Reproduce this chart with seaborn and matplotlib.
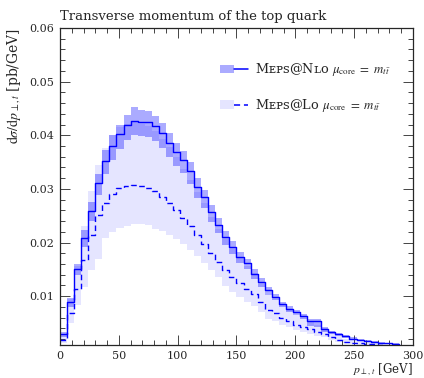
import numpy as np
import pandas as pd
import seaborn as sns
import matplotlib
matplotlib.use("Agg")
import matplotlib.pyplot as plt
from matplotlib.patches import Patch
from matplotlib.lines import Line2D
from matplotlib.legend_handler import HandlerTuple

# ---------------- data ----------------
bin_edges = np.linspace(0, 300, 51)

nlo_central = [0.0029, 0.0089, 0.0150, 0.0209, 0.0259, 0.0311, 0.0352, 0.0380, 0.0402, 0.0419,
               0.0427, 0.0425, 0.0425, 0.0418, 0.0404, 0.0386, 0.0369, 0.0354, 0.0333, 0.0304,
               0.0284, 0.0257, 0.0233, 0.0210, 0.0192, 0.0173, 0.0161, 0.0142, 0.0127, 0.0111,
               0.0099, 0.0085, 0.0077, 0.0070, 0.0063, 0.0054, 0.0053, 0.0039, 0.0033, 0.0030,
               0.0025, 0.0021, 0.0018, 0.0017, 0.0015, 0.0013, 0.0012, 0.0011, 0.0008, 0.0007]
nlo_upper = [0.0034, 0.0097, 0.0160, 0.0224, 0.0275, 0.0328, 0.0372, 0.0400, 0.0420, 0.0438,
             0.0452, 0.0448, 0.0445, 0.0436, 0.0422, 0.0404, 0.0386, 0.0371, 0.0350, 0.0320,
             0.0298, 0.0270, 0.0246, 0.0222, 0.0203, 0.0183, 0.0170, 0.0150, 0.0134, 0.0118,
             0.0105, 0.0090, 0.0082, 0.0074, 0.0067, 0.0058, 0.0057, 0.0042, 0.0036, 0.0032,
             0.0027, 0.0023, 0.0020, 0.0018, 0.0016, 0.0014, 0.0013, 0.0012, 0.0009, 0.0008]
nlo_lower = [0.0024, 0.0080, 0.0139, 0.0192, 0.0240, 0.0288, 0.0328, 0.0354, 0.0375, 0.0392,
             0.0400, 0.0398, 0.0396, 0.0390, 0.0376, 0.0359, 0.0343, 0.0329, 0.0310, 0.0283,
             0.0264, 0.0239, 0.0217, 0.0195, 0.0179, 0.0161, 0.0150, 0.0132, 0.0118, 0.0103,
             0.0092, 0.0079, 0.0071, 0.0064, 0.0057, 0.0044, 0.0042, 0.0034, 0.0029, 0.0026,
             0.0022, 0.0018, 0.0016, 0.0015, 0.0013, 0.0011, 0.0010, 0.0009, 0.0007, 0.0006]

lo_central = [0.0019, 0.0068, 0.0113, 0.0167, 0.0215, 0.0251, 0.0273, 0.0290, 0.0301, 0.0305,
              0.0307, 0.0305, 0.0302, 0.0296, 0.0285, 0.0274, 0.0260, 0.0245, 0.0230, 0.0214,
              0.0198, 0.0180, 0.0164, 0.0149, 0.0136, 0.0124, 0.0114, 0.0104, 0.0089, 0.0074,
              0.0069, 0.0060, 0.0054, 0.0047, 0.0043, 0.0038, 0.0033, 0.0030, 0.0024, 0.0018,
              0.0015, 0.0013, 0.0012, 0.0011, 0.0010, 0.0009, 0.0008, 0.0007, 0.0006, 0.0005]
lo_upper = [0.0027, 0.0094, 0.0156, 0.0230, 0.0297, 0.0345, 0.0376, 0.0400, 0.0415, 0.0421,
            0.0424, 0.0421, 0.0417, 0.0408, 0.0393, 0.0378, 0.0359, 0.0338, 0.0317, 0.0295,
            0.0273, 0.0248, 0.0226, 0.0206, 0.0188, 0.0171, 0.0157, 0.0143, 0.0123, 0.0102,
            0.0095, 0.0083, 0.0075, 0.0065, 0.0059, 0.0052, 0.0046, 0.0041, 0.0033, 0.0025,
            0.0021, 0.0018, 0.0017, 0.0015, 0.0014, 0.0012, 0.0011, 0.0010, 0.0008, 0.0007]
lo_lower = [0.0012, 0.0050, 0.0083, 0.0117, 0.0149, 0.0170, 0.0208, 0.0220, 0.0227, 0.0231,
            0.0234, 0.0235, 0.0232, 0.0226, 0.0222, 0.0214, 0.0206, 0.0198, 0.0187, 0.0175,
            0.0161, 0.0149, 0.0136, 0.0119, 0.0108, 0.0098, 0.0090, 0.0082, 0.0070, 0.0058,
            0.0054, 0.0047, 0.0042, 0.0037, 0.0033, 0.0029, 0.0026, 0.0023, 0.0019, 0.0014,
            0.0012, 0.0010, 0.0009, 0.0008, 0.0008, 0.0007, 0.0006, 0.0005, 0.0005, 0.0004]

title = "Transverse momentum of the top quark"
label_nlo = "M\u1d07\u1d18\ua731@N\u029f\u1d0f $\\mu_{\\mathrm{core}}\\ =\\ m_{t\\bar{t}}$"
label_lo = "M\u1d07\u1d18\ua731@L\u1d0f $\\mu_{\\mathrm{core}}\\ =\\ m_{t\\bar{t}}$"

# ---------------- style ----------------
sns.set_style("ticks")
plt.rcParams["font.family"] = ["DejaVu Serif", "DejaVu Sans"]
plt.rcParams["mathtext.fontset"] = "stix"

fig = plt.figure(figsize=(4.24, 3.78), dpi=100)
ax = fig.add_axes([60 / 424, 1 - 345 / 378, 353 / 424, (345 - 28) / 378])


def ext(v):
    return np.append(np.asarray(v, dtype=float), v[-1])


blue = "#0000ff"
ax.fill_between(bin_edges, ext(lo_lower), ext(lo_upper), step="post",
                color=blue, alpha=0.10, lw=0)
ax.fill_between(bin_edges, ext(nlo_lower), ext(nlo_upper), step="post",
                color=blue, alpha=0.33, lw=0)

df_nlo = pd.DataFrame({"x": bin_edges, "y": ext(nlo_central)})
df_lo = pd.DataFrame({"x": bin_edges, "y": ext(lo_central)})
sns.lineplot(data=df_nlo, x="x", y="y", drawstyle="steps-post", color=blue,
             lw=1.0, estimator=None, ax=ax)
sns.lineplot(data=df_lo, x="x", y="y", drawstyle="steps-post", color=blue,
             lw=1.0, estimator=None, ax=ax)
ax.lines[-1].set_dashes([4, 2.5])

ax.set_xlim(0, 300)
ax.set_ylim(0.0009, 0.06)
ax.set_xticks(np.arange(0, 301, 50))
ax.set_xticks(np.arange(0, 301, 10), minor=True)
ax.set_yticks([0.01, 0.02, 0.03, 0.04, 0.05, 0.06])
ax.set_yticks(np.arange(0.002, 0.0601, 0.002), minor=True)
ax.set_yticklabels(["0.01", "0.02", "0.03", "0.04", "0.05", "0.06"])
ax.tick_params(which="both", direction="in", top=True, right=True,
               labelsize=8, width=0.7, color="#444444")
ax.tick_params(which="major", length=7.5, pad=4)
ax.tick_params(which="minor", length=3.8)
for s in ax.spines.values():
    s.set_linewidth(0.9)
    s.set_visible(True)

ax.set_xlabel(r"$p_{\perp,t}$ [GeV]", loc="right", fontsize=8.5, labelpad=1)
ax.set_ylabel(r"$\mathrm{d}\sigma/\mathrm{d}p_{\perp,t}$ [pb/GeV]", loc="top",
              fontsize=10, labelpad=5)
ax.set_title(title, loc="left", fontsize=9.5, pad=6)

h_nlo = (Patch(facecolor=blue, alpha=0.33, lw=0),
         Line2D([], [], color=blue, lw=1.1))
lp = Patch(facecolor=blue, alpha=0.10, lw=0)
ll = Line2D([], [], color=blue, lw=1.1, dashes=[4, 2.5])
h_lo = (lp, ll)
leg = ax.legend([h_nlo, h_lo], [label_nlo, label_lo],
                handler_map={tuple: HandlerTuple(ndivide=None, pad=0)},
                loc="upper left", bbox_to_anchor=(0.452, 0.895), frameon=False,
                fontsize=9.3, labelspacing=1.45, handlelength=2.2, handleheight=0.6,
                handletextpad=0.55, borderaxespad=0, borderpad=0)

fig.savefig("out.png", dpi=100)
